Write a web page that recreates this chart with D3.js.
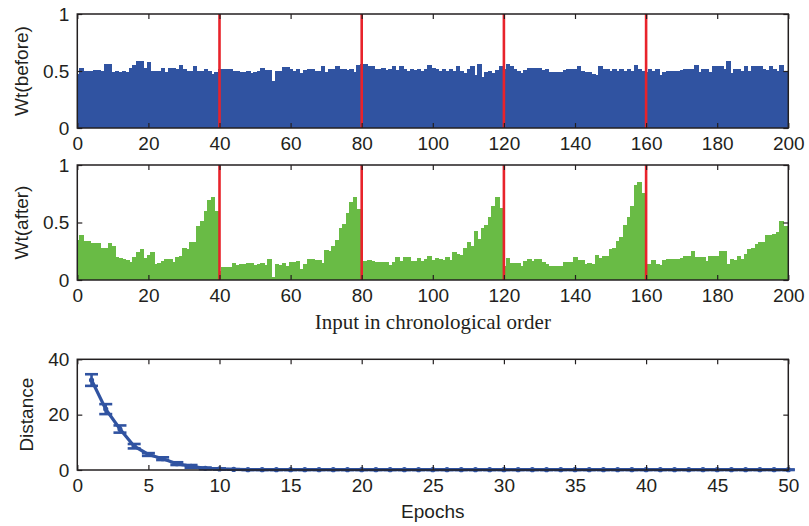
<!DOCTYPE html>
<html><head><meta charset="utf-8">
<script src="https://cdn.jsdelivr.net/npm/d3@7"></script>
<style>
html,body{margin:0;padding:0;background:#fff;}
svg{display:block;}
text{font-family:"Liberation Sans",Arial,sans-serif;fill:#231f20;}
</style></head>
<body>
<svg id="chart" width="809" height="526"></svg>
<script>
// ---------------- DATA ----------------
const inputIndex = d3.range(0, 200); // input positions 0..199
const wtBefore = [
0.47,0.525,0.50,0.50,0.50,0.51,0.51,0.50,0.56,0.56,
0.495,0.50,0.495,0.50,0.495,0.53,0.55,0.59,0.59,0.525,
0.58,0.50,0.50,0.50,0.53,0.495,0.525,0.525,0.515,0.55,
0.515,0.50,0.50,0.54,0.50,0.50,0.52,0.50,0.475,0.495,
0.515,0.515,0.515,0.515,0.50,0.50,0.495,0.495,0.50,0.48,
0.495,0.50,0.53,0.51,0.51,0.41,0.50,0.50,0.535,0.535,
0.52,0.50,0.52,0.48,0.51,0.52,0.52,0.50,0.50,0.54,
0.49,0.52,0.52,0.54,0.52,0.52,0.51,0.52,0.49,0.55,
0.56,0.56,0.545,0.545,0.52,0.52,0.53,0.51,0.52,0.545,
0.51,0.545,0.52,0.50,0.52,0.51,0.52,0.50,0.52,0.55,
0.53,0.52,0.50,0.52,0.50,0.52,0.50,0.54,0.50,0.48,
0.52,0.54,0.465,0.56,0.45,0.49,0.50,0.48,0.51,0.545,
0.52,0.56,0.54,0.515,0.50,0.48,0.51,0.53,0.53,0.53,
0.53,0.51,0.52,0.495,0.495,0.495,0.495,0.51,0.52,0.52,
0.52,0.545,0.50,0.495,0.495,0.47,0.465,0.545,0.52,0.52,
0.50,0.52,0.50,0.52,0.50,0.52,0.50,0.55,0.52,0.50,
0.495,0.52,0.50,0.52,0.465,0.495,0.50,0.50,0.50,0.50,
0.51,0.52,0.52,0.52,0.55,0.495,0.52,0.52,0.495,0.54,
0.54,0.54,0.52,0.59,0.48,0.52,0.52,0.50,0.54,0.50,
0.545,0.545,0.545,0.52,0.51,0.54,0.52,0.50,0.55,0.49
];
const wtAfter = [
0.35,0.39,0.34,0.34,0.32,0.32,0.32,0.28,0.28,0.32,
0.30,0.20,0.19,0.18,0.175,0.16,0.20,0.24,0.27,0.19,
0.22,0.24,0.14,0.15,0.165,0.185,0.185,0.16,0.20,0.21,
0.28,0.27,0.33,0.33,0.47,0.51,0.60,0.70,0.72,0.60,
0.08,0.11,0.11,0.11,0.15,0.13,0.14,0.14,0.145,0.145,
0.13,0.14,0.145,0.13,0.185,0.03,0.135,0.13,0.15,0.12,
0.16,0.16,0.165,0.10,0.14,0.185,0.18,0.175,0.17,0.15,
0.26,0.25,0.30,0.35,0.45,0.49,0.58,0.68,0.72,0.62,
0.14,0.165,0.175,0.165,0.16,0.16,0.16,0.16,0.13,0.16,
0.20,0.165,0.20,0.20,0.165,0.165,0.19,0.165,0.18,0.21,
0.175,0.19,0.185,0.17,0.20,0.175,0.24,0.23,0.215,0.28,
0.33,0.30,0.43,0.36,0.45,0.48,0.55,0.64,0.72,0.63,
0.12,0.19,0.15,0.15,0.15,0.125,0.165,0.185,0.165,0.185,
0.185,0.155,0.14,0.12,0.12,0.12,0.12,0.155,0.16,0.16,
0.20,0.175,0.175,0.14,0.15,0.14,0.22,0.19,0.21,0.21,
0.27,0.28,0.34,0.37,0.48,0.55,0.64,0.83,0.85,0.76,
0.14,0.14,0.175,0.14,0.13,0.175,0.18,0.185,0.185,0.185,
0.195,0.21,0.21,0.255,0.20,0.20,0.20,0.165,0.21,0.205,
0.205,0.25,0.25,0.14,0.185,0.175,0.21,0.185,0.23,0.27,
0.28,0.31,0.33,0.33,0.39,0.39,0.40,0.42,0.51,0.47
];
const boundaries = [40, 80, 120, 160];
const inputTicks = [0, 20, 40, 60, 80, 100, 120, 140, 160, 180, 200];
const wtTicks = [0, 0.5, 1];
const wtTickLabels = ["0", "0.5", "1"];

const epochs = d3.range(1, 51);
const distMean = [32.5,22.0,14.8,8.6,5.6,4.1,2.3,1.3,0.6,0.4,
0.2,0.1,0.1,0.1,0.1,0.1,0.1,0.1,0.1,0.1,
0.1,0.1,0.1,0.1,0.1,0.1,0.1,0.1,0.1,0.1,
0.1,0.1,0.1,0.1,0.1,0.1,0.1,0.1,0.1,0.1,
0.1,0.1,0.1,0.1,0.1,0.1,0.1,0.1,0.1,0.1];
const distErr = [2.1,1.8,1.3,0.8,0.5,0.5,0.5,0.5,0.3,0.2,
0.1,0.1,0.1,0.1,0.1,0.1,0.1,0.1,0.1,0.1,
0.1,0.1,0.1,0.1,0.1,0.1,0.1,0.1,0.1,0.1,
0.1,0.1,0.1,0.1,0.1,0.1,0.1,0.1,0.1,0.1,
0.1,0.1,0.1,0.1,0.1,0.1,0.1,0.1,0.1,0.1];
const epochTicks = [0,5,10,15,20,25,30,35,40,45,50];
const distTicks = [0,20,40];

// ---------------- STYLE ----------------
const blue = "#3053a1", green = "#69bb45", red = "#e8232b", axisCol = "#231f20";
const svg = d3.select("#chart");
const X0 = 77.3, X1 = 788.3;

function panel(id, top, bottom, xDomain, yDomain) {
  const g = svg.append("g");
  const x = d3.scaleLinear().domain(xDomain).range([X0, X1]);
  const y = d3.scaleLinear().domain(yDomain).range([bottom, top]);
  svg.append("defs").append("clipPath").attr("id", id)
    .append("rect").attr("x", X0).attr("y", top).attr("width", X1 - X0).attr("height", bottom - top);
  return {g, x, y, top, bottom};
}

function axes(p, xTicks, yTicks, yFmt, fs, pad) {
  const gx = p.g.append("g").attr("transform", `translate(0,${p.bottom})`)
    .call(d3.axisBottom(p.x).tickValues(xTicks).tickSize(-5).tickPadding(pad).tickFormat(d3.format("d")));
  const gxt = p.g.append("g").attr("transform", `translate(0,${p.top})`)
    .call(d3.axisTop(p.x).tickValues(xTicks).tickSize(-5).tickFormat(""));
  const gy = p.g.append("g").attr("transform", `translate(${X0},0)`)
    .call(d3.axisLeft(p.y).tickValues(yTicks).tickSize(-5).tickPadding(8).tickFormat(yFmt));
  const gyr = p.g.append("g").attr("transform", `translate(${X1},0)`)
    .call(d3.axisRight(p.y).tickValues(yTicks).tickSize(-5).tickFormat(""));
  [gx, gxt, gy, gyr].forEach(a => {
    a.select(".domain").remove();
    a.selectAll("line").attr("stroke", axisCol).attr("stroke-width", 1.2);
    a.selectAll("text").attr("font-size", fs).attr("fill", axisCol)
      .style("font-family", '"Liberation Sans",Arial,sans-serif');
  });
  p.g.append("rect").attr("x", X0).attr("y", p.top).attr("width", X1 - X0)
    .attr("height", p.bottom - p.top).attr("fill", "none")
    .attr("stroke", axisCol).attr("stroke-width", 1.5);
}

function barPanel(id, top, bottom, vals, color, label) {
  const p = panel(id, top, bottom, [0, 200], [0, 1]);
  const w = p.x(1) - p.x(0);
  p.g.append("g").attr("clip-path", `url(#${id})`).attr("shape-rendering", "crispEdges")
    .selectAll("rect")
    .data(inputIndex).join("rect")
    .attr("x", i => p.x(i - 0.5)).attr("width", w + 1)
    .attr("y", i => p.y(vals[i])).attr("height", i => p.y(0) - p.y(vals[i]))
    .attr("fill", color);
  p.g.append("g").selectAll("line").data(boundaries).join("line")
    .attr("x1", d => p.x(d)).attr("x2", d => p.x(d))
    .attr("y1", p.y(1)).attr("y2", p.y(0))
    .attr("stroke", red).attr("stroke-width", 2.6);
  axes(p, inputTicks, wtTicks, (d, i) => wtTickLabels[i], 19, 8.5);
  p.g.append("text").attr("transform", `translate(28,${(top + bottom) / 2}) rotate(-90)`)
    .attr("text-anchor", "middle").attr("font-size", 19).text(label);
  return p;
}

barPanel("clipA", 14, 128, wtBefore, blue, "Wt(before)");
barPanel("clipB", 165, 280, wtAfter, green, "Wt(after)");

svg.append("text").attr("x", (X0 + X1) / 2).attr("y", 329).attr("text-anchor", "middle")
  .attr("font-size", 21).style("font-family", '"Liberation Serif","Times New Roman",serif')
  .text("Input in chronological order");

// Bottom panel
const pc = panel("clipC", 359.3, 470, [0, 50], [0, 40]);
const lineGen = d3.line().x((d, i) => pc.x(epochs[i])).y((d) => pc.y(d));
pc.g.append("path").datum(distMean).attr("d", lineGen)
  .attr("fill", "none").attr("stroke", blue).attr("stroke-width", 3.2);
const eb = pc.g.append("g").attr("stroke", blue).attr("stroke-width", 2.6);
epochs.forEach((e, i) => {
  const cx = pc.x(e), lo = pc.y(distMean[i] - distErr[i]), hi = pc.y(distMean[i] + distErr[i]);
  eb.append("line").attr("x1", cx).attr("x2", cx).attr("y1", lo).attr("y2", hi);
  eb.append("line").attr("x1", cx - 6.5).attr("x2", cx + 6.5).attr("y1", lo).attr("y2", lo);
  eb.append("line").attr("x1", cx - 6.5).attr("x2", cx + 6.5).attr("y1", hi).attr("y2", hi);
});
pc.g.append("g").selectAll("circle").data(distMean).join("circle")
  .attr("cx", (d, i) => pc.x(epochs[i])).attr("cy", d => pc.y(d)).attr("r", 2.6).attr("fill", blue);
axes(pc, epochTicks, distTicks, d3.format("d"), 19, 9);
svg.append("text").attr("transform", `translate(33,${(359.3 + 470) / 2}) rotate(-90)`)
  .attr("text-anchor", "middle").attr("font-size", 19).text("Distance");
svg.append("text").attr("x", (X0 + X1) / 2).attr("y", 518).attr("text-anchor", "middle")
  .attr("font-size", 19).text("Epochs");
</script>
</body></html>
